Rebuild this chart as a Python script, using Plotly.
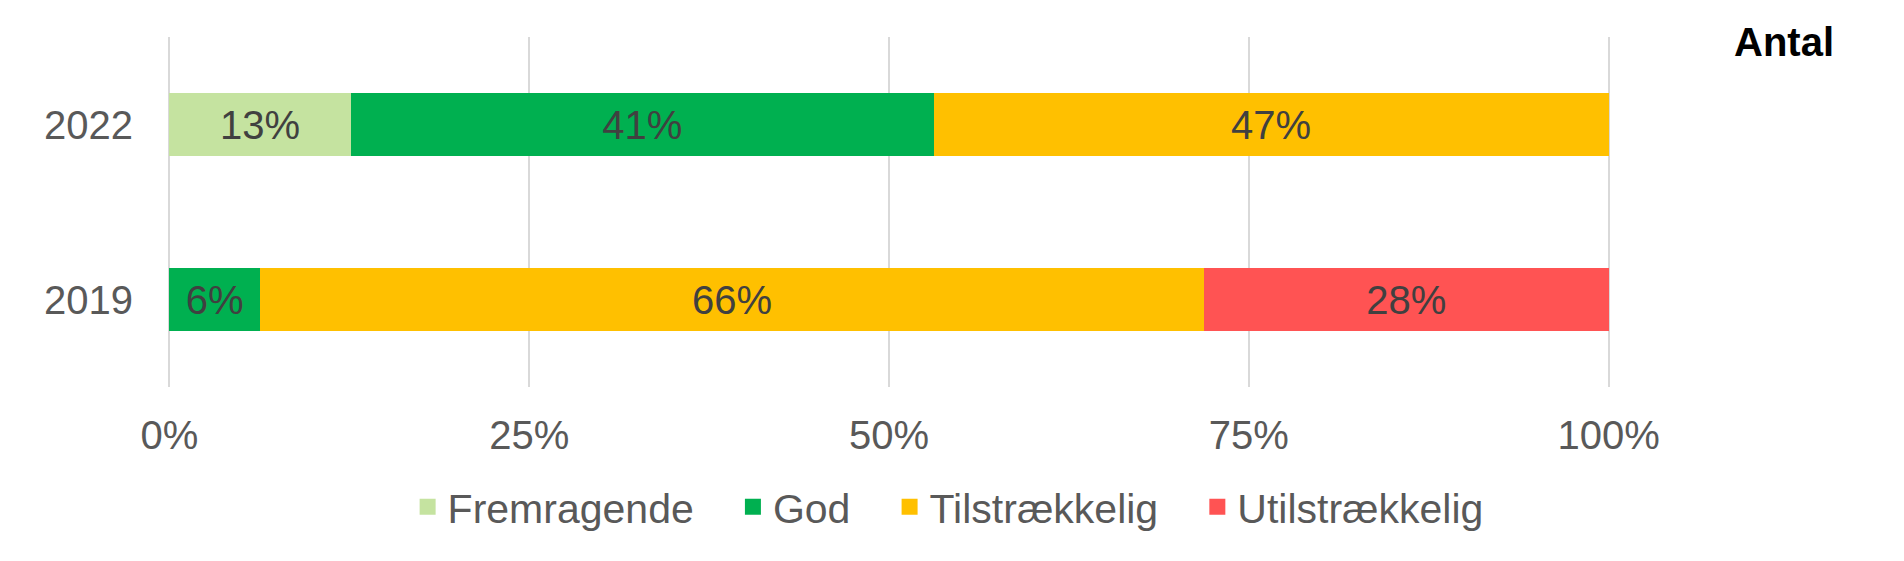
import plotly.graph_objects as go

# Vurdering fordelt på år (andel i procent)
years = ["2019", "2022"]
categories = ["Fremragende", "God", "Tilstrækkelig", "Utilstrækkelig"]
colors = ["#C5E3A0", "#00B050", "#FFC000", "#FF5353"]
values = {
    "Fremragende": [0, 12.6],
    "God": [6.3, 40.5],
    "Tilstrækkelig": [65.6, 46.9],
    "Utilstrækkelig": [28.1, 0],
}
labels = {
    "Fremragende": ["", "13%"],
    "God": ["6%", "41%"],
    "Tilstrækkelig": ["66%", "47%"],
    "Utilstrækkelig": ["28%", ""],
}
antal = [31, 32]

FONT = "Liberation Sans, Arial, sans-serif"
PAD = "\u00a0" * 3  # luft mellem forklaringer

fig = go.Figure()

for i, (cat, col) in enumerate(zip(categories, colors)):
    fig.add_trace(go.Bar(
        y=years,
        x=[v / 100 for v in values[cat]],
        orientation="h",
        name=cat,
        marker=dict(color=col, line=dict(width=0)),
        text=labels[cat],
        textposition="inside",
        insidetextanchor="middle",
        textfont=dict(family=FONT, size=40, color="#404040"),
        constraintext="none",
        showlegend=False,
    ))
    # legend proxy with larger square symbol
    fig.add_trace(go.Scatter(
        x=[None], y=[None],
        mode="markers",
        name=cat + (PAD if i < len(categories) - 1 else ""),
        marker=dict(symbol="square", size=21, color=col),
        showlegend=True,
    ))

fig.add_annotation(
    x=1.121, y=0.985, xref="paper", yref="paper",
    text="<b>Antal</b>", showarrow=False,
    xanchor="center", yanchor="middle",
    font=dict(family=FONT, size=40, color="#000000"),
)
for yr, n in zip(years, antal):
    fig.add_annotation(
        x=1.121, y=yr, xref="paper", yref="y",
        text=str(n), showarrow=False,
        xanchor="center", yanchor="middle",
        font=dict(family=FONT, size=35, color="#000000"),
    )

# page body has an 8px margin, so the figure is a bit smaller than the window
fig.update_layout(
    width=1896,
    height=553,
    barmode="stack",
    bargap=0.645,
    plot_bgcolor="white",
    paper_bgcolor="white",
    margin=dict(l=160, r=294, t=29, b=174),
    font=dict(family=FONT, size=40, color="#595959"),
    legend=dict(
        orientation="h",
        traceorder="normal",
        x=0.541, xanchor="center",
        y=-0.343, yanchor="middle",
        font=dict(family=FONT, size=41, color="#595959"),
        bgcolor="rgba(0,0,0,0)",
    ),
    xaxis=dict(
        range=[-0.001, 1.001],
        tickvals=[0, 0.25, 0.5, 0.75, 1],
        tickformat=".0%",
        showgrid=True,
        gridcolor="#D9D9D9",
        gridwidth=2,
        zeroline=False,
        showline=False,
        automargin=False,
        ticks="outside",
        ticklen=13,
        tickcolor="rgba(0,0,0,0)",
        tickfont=dict(family=FONT, size=40, color="#595959"),
    ),
    yaxis=dict(
        categoryorder="array",
        categoryarray=years,
        range=[-0.5, 1.5],
        showgrid=False,
        zeroline=False,
        showline=False,
        automargin=False,
        ticks="outside",
        ticklen=26,
        tickcolor="rgba(0,0,0,0)",
        tickfont=dict(family=FONT, size=40, color="#595959"),
    ),
)

fig.write_html("out.html")
